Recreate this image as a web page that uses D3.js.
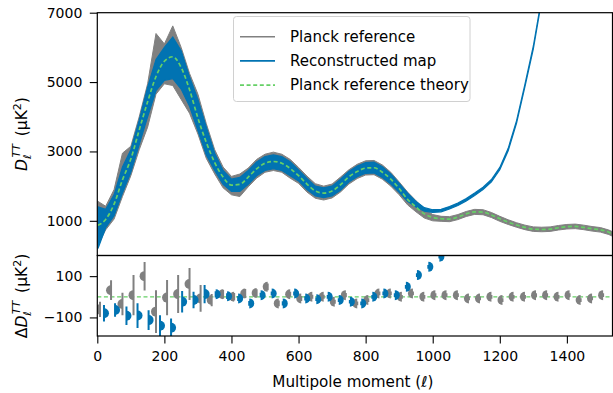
<!DOCTYPE html>
<html>
<head>
<meta charset="utf-8">
<title>TT spectrum</title>
<script src="https://cdn.jsdelivr.net/npm/d3@7"></script>
<style>
  body { margin: 0; background: #fff; }
  text { font-family: "DejaVu Sans", sans-serif; }
</style>
</head>
<body>
<script>
  // multipole knots for the top panel
  var ell = [2, 25, 50, 75, 100, 125, 150, 175, 200, 225, 250, 275, 300, 325, 350, 375, 400, 425, 450, 475,
             500, 525, 550, 575, 600, 625, 650, 675, 700, 725, 750, 775, 800, 825, 850, 875, 900, 925, 950, 975,
             1000, 1025, 1050, 1075, 1100, 1125, 1150, 1175, 1200, 1225, 1250, 1275, 1300, 1325, 1350, 1375,
             1400, 1425, 1450, 1475, 1500, 1525, 1536];
  var theory = [870, 1040, 1480, 2180, 2780, 3620, 4430, 5160, 5600, 5730, 5420, 4780, 3960, 3260, 2680, 2260, 2030, 2050, 2260, 2500,
                2660, 2710, 2660, 2510, 2300, 2060, 1860, 1800, 1860, 2040, 2270, 2420, 2520, 2530, 2400, 2200, 1930, 1620, 1400, 1200,
                1100, 1060, 1050, 1110, 1200, 1260, 1250, 1170, 1060, 960, 880, 810, 760, 750, 760, 800,
                830, 840, 810, 770, 740, 670, 620];
  // spread of the noisy Planck reference spectrum
  var grayHi = [1560, 1420, 1900, 2950, 3150, 4000, 4950, 6400, 6100, 6620, 6000, 5250, 4650, 3800, 3050, 2550, 2280, 2350, 2520, 2770,
                2920, 2980, 2920, 2770, 2540, 2290, 2070, 2000, 2060, 2260, 2470, 2630, 2730, 2740, 2610, 2400, 2120, 1830, 1580, 1350,
                1180, 1130, 1120, 1180, 1270, 1330, 1320, 1240, 1130, 1030, 945, 875, 825, 815, 825, 865,
                895, 905, 875, 835, 805, 735, 685];
  var grayLo = [300, 740, 1050, 1700, 2300, 3050, 3700, 4650, 4950, 4900, 4500, 4100, 3500, 2800, 2350, 1950, 1750, 1700, 1980, 2230,
                2400, 2450, 2400, 2230, 2080, 1830, 1650, 1600, 1660, 1830, 2060, 2220, 2320, 2330, 2200, 2000, 1750, 1460, 1260, 1080,
                1000, 985, 975, 1035, 1125, 1185, 1175, 1095, 985, 895, 815, 745, 695, 685, 695, 735,
                765, 775, 745, 705, 675, 605, 555];
  // spread of the reconstructed map spectrum (leaves the top above l~1320)
  var blueHi = [1400, 1330, 1750, 2550, 3050, 3900, 4850, 5650, 6000, 6300, 5900, 5150, 4500, 3700, 2950, 2450, 2200, 2250, 2450, 2700,
                2850, 2900, 2850, 2700, 2470, 2220, 2000, 1950, 2000, 2200, 2420, 2580, 2680, 2690, 2560, 2350, 2080, 1800, 1560, 1380,
                1320, 1330, 1410, 1510, 1640, 1800, 1970, 2190, 2540, 3090, 3890, 4940, 6040, 7440, null, null,
                null, null, null, null, null, null, null];
  var blueLo = [200, 800, 1150, 1800, 2400, 3200, 4000, 4750, 5050, 5100, 4800, 4300, 3600, 2900, 2450, 2050, 1850, 1850, 2050, 2300,
                2450, 2500, 2450, 2300, 2150, 1900, 1720, 1670, 1720, 1880, 2120, 2270, 2370, 2380, 2250, 2060, 1820, 1560, 1400, 1280,
                1240, 1260, 1340, 1440, 1570, 1730, 1900, 2120, 2470, 3020, 3820, 4870, 5960, 7360, null, null,
                null, null, null, null, null, null, null];

  // binned residuals for the lower panel
  var resEll = [8, 41, 75, 108, 141, 175, 208, 241, 275, 308, 341, 375, 408, 441, 475, 508, 541, 575, 608, 641,
                675, 708, 741, 775, 808, 841, 875, 908, 941, 975, 1008, 1041, 1075, 1108, 1141, 1175, 1208, 1241,
                1275, 1308, 1341, 1375, 1408, 1441, 1475, 1508];
  var resGray = [-61, 32, -35, 8, 100, -72, -4, 13, 62, -8, -16, 12, 0, 16, 18, 48, -32, 12, -8, 0,
                 0, -24, 8, -32, -16, 16, 16, 0, 16, 0, 8, 8, 8, -8, -8, 0, -16, 0,
                 0, 8, 8, 0, 8, -16, -8, 8];
  var errGray = [37, 48, 54, 97, 69, 104, 85, 92, 78, 65, 30, 22, 18, 22, 18, 16, 14, 12, 12, 10,
                 10, 10, 10, 9, 9, 9, 9, 9, 9, 9, 9, 9, 9, 9, 9, 9, 9, 9,
                 9, 9, 9, 9, 9, 9, 9, 9];
  var resBlue = [-80, -64, -92, -91, -113, -140, -150, -24, -16, 13, 12, 3, -8, -32, 8, 16, -32, 16, -8, -12,
                 0, -16, -24, -32, 0, 16, 8, 48, 105, 145, 194, 270, 365, 430, 645, 980, 1670, 2700,
                 4090, 5740, null, null, null, null, null, null];
  var errBlue = [40, 33, 45, 60, 48, 50, 45, 52, 40, 44, 15, 14, 12, 12, 12, 10, 10, 10, 10, 9,
                 9, 9, 9, 9, 9, 9, 9, 9, 9, 9, 9, 9, 9, 9, 9, 9, 9, 9,
                 9, 9, 9, 9, 9, 9, 9, 9];

  var topTicks = [1000, 3000, 5000, 7000];
  var resTicks = [-100, 100];
  var xTicks = [0, 200, 400, 600, 800, 1000, 1200, 1400];
  var legendLabels = ["Planck reference", "Reconstructed map", "Planck reference theory"];

  var grayCol = "#808080", blueCol = "#0173b2", greenCol = "#66d066";
  var width = 613, height = 393;

  var svg = d3.select("body").append("svg")
              .attr("width", width)
              .attr("height", height);

  var x = d3.scaleLinear().domain([0, 1536]).range([97.3, 612.5]);
  var yTop = d3.scaleLinear().domain([0, 7000]).range([255.5, 12.7]);
  var yRes = d3.scaleLinear().domain([-190, 200]).range([336, 255.5]);

  var defs = svg.append("defs");
  defs.append("clipPath").attr("id", "clipTop").append("rect")
      .attr("x", x.range()[0]).attr("y", yTop.range()[1])
      .attr("width", x.range()[1] - x.range()[0]).attr("height", yTop.range()[0] - yTop.range()[1]);
  defs.append("clipPath").attr("id", "clipRes").append("rect")
      .attr("x", x.range()[0]).attr("y", yRes.range()[1])
      .attr("width", x.range()[1] - x.range()[0]).attr("height", yRes.range()[0] - yRes.range()[1]);

  var rows = ell.map(function(l, i) {
    return {l: l, t: theory[i], gh: grayHi[i], gl: grayLo[i], bh: blueHi[i], bl: blueLo[i]};
  });

  // ---- top panel
  var gTop = svg.append("g").attr("clip-path", "url(#clipTop)");

  var grayArea = d3.area()
                   .x(function(d){ return x(d.l); })
                   .y0(function(d){ return yTop(d.gl); })
                   .y1(function(d){ return yTop(d.gh); });
  gTop.append("path").datum(rows)
      .attr("d", grayArea)
      .attr("fill", grayCol).attr("stroke", grayCol).attr("stroke-width", 1);

  var blueArea = d3.area()
                   .defined(function(d){ return d.bh != null; })
                   .x(function(d){ return x(d.l); })
                   .y0(function(d){ return yTop(d.bl); })
                   .y1(function(d){ return yTop(d.bh); });
  gTop.append("path").datum(rows)
      .attr("d", blueArea)
      .attr("fill", blueCol).attr("stroke", blueCol).attr("stroke-width", 1.2);

  var theoryLine = d3.line()
                     .curve(d3.curveMonotoneX)
                     .x(function(d){ return x(d.l); })
                     .y(function(d){ return yTop(d.t); });
  gTop.append("path").datum(rows)
      .attr("d", theoryLine)
      .attr("fill", "none").attr("stroke", greenCol)
      .attr("stroke-width", 1.7).attr("stroke-dasharray", "4,2.6");

  // ---- residual panel
  var gRes = svg.append("g").attr("clip-path", "url(#clipRes)");
  gRes.append("line")
      .attr("x1", x.range()[0]).attr("x2", x.range()[1])
      .attr("y1", yRes(0)).attr("y2", yRes(0))
      .attr("stroke", greenCol).attr("stroke-width", 1.3).attr("stroke-dasharray", "4,2.6");

  var half = d3.arc().innerRadius(0).outerRadius(5);
  var resRows = resEll.map(function(l, i) {
    return {l: l, g: resGray[i], ge: errGray[i], b: resBlue[i], be: errBlue[i]};
  });

  var grayPts = gRes.selectAll(".gp").data(resRows).enter().append("g").attr("class", "gp");
  grayPts.append("line")
         .attr("x1", function(d){ return x(d.l); }).attr("x2", function(d){ return x(d.l); })
         .attr("y1", function(d){ return yRes(d.g - d.ge); }).attr("y2", function(d){ return yRes(d.g + d.ge); })
         .attr("stroke", grayCol).attr("stroke-width", 2);
  grayPts.append("path")
         .attr("d", half({startAngle: Math.PI, endAngle: 2 * Math.PI}))
         .attr("transform", function(d){ return "translate(" + x(d.l) + "," + yRes(d.g) + ")"; })
         .attr("fill", grayCol);

  var bluePts = gRes.selectAll(".bp").data(resRows.filter(function(d){ return d.b != null; }))
                    .enter().append("g").attr("class", "bp");
  bluePts.append("line")
         .attr("x1", function(d){ return x(d.l) + 4; }).attr("x2", function(d){ return x(d.l) + 4; })
         .attr("y1", function(d){ return yRes(d.b - d.be); }).attr("y2", function(d){ return yRes(d.b + d.be); })
         .attr("stroke", blueCol).attr("stroke-width", 2);
  bluePts.append("path")
         .attr("d", half({startAngle: 0, endAngle: Math.PI}))
         .attr("transform", function(d){ return "translate(" + (x(d.l) + 4) + "," + yRes(d.b) + ")"; })
         .attr("fill", blueCol);

  // ---- axes
  var fmt = d3.format("d");
  var axTop = svg.append("g").attr("transform", "translate(" + x.range()[0] + ",0)")
                 .call(d3.axisLeft(yTop).tickValues(topTicks).tickFormat(fmt).tickSize(7.5).tickPadding(7.5));
  var axRes = svg.append("g").attr("transform", "translate(" + x.range()[0] + ",0)")
                 .call(d3.axisLeft(yRes).tickValues(resTicks).tickFormat(fmt).tickSize(7.5).tickPadding(7.5));
  var axX = svg.append("g").attr("transform", "translate(0," + yRes.range()[0] + ")")
               .call(d3.axisBottom(x).tickValues(xTicks).tickFormat(fmt).tickSize(7.5).tickPadding(7.5));
  [axTop, axRes, axX].forEach(function(a){
    a.select(".domain").remove();
    a.selectAll("text").attr("font-size", 14).attr("fill", "#000").style("font-family", "DejaVu Sans");
    a.selectAll("line").attr("stroke", "#000").attr("stroke-width", 1.1);
  });

  // frames
  svg.append("rect")
     .attr("x", x.range()[0]).attr("y", yTop.range()[1])
     .attr("width", x.range()[1] - x.range()[0]).attr("height", yTop.range()[0] - yTop.range()[1])
     .attr("fill", "none").attr("stroke", "#000").attr("stroke-width", 1.2);
  svg.append("rect")
     .attr("x", x.range()[0]).attr("y", yRes.range()[1])
     .attr("width", x.range()[1] - x.range()[0]).attr("height", yRes.range()[0] - yRes.range()[1])
     .attr("fill", "none").attr("stroke", "#000").attr("stroke-width", 1.2);

  // axis labels
  svg.append("text")
     .attr("x", (x.range()[0] + x.range()[1]) / 2 - 2).attr("y", 387)
     .attr("text-anchor", "middle").attr("font-size", 15.2)
     .text("Multipole moment (ℓ)");

  function yLabel(cx, cy, delta) {
    var t = svg.append("text")
               .attr("transform", "translate(" + cx + "," + cy + ") rotate(-90)")
               .attr("text-anchor", "middle").attr("font-size", 15.5).attr("dy", "0.35em");
    if (delta) t.append("tspan").text("Δ");
    t.append("tspan").attr("font-style", "italic").text("D");
    t.append("tspan").attr("font-size", 11).attr("dy", 4).text("ℓ");
    t.append("tspan").attr("font-size", 11).attr("font-style", "italic").attr("dx", -3).attr("dy", -11).text("TT");
    t.append("tspan").attr("dy", 7).text("\u2002(μK");
    t.append("tspan").attr("font-size", 11).attr("dy", -6).text("2");
    t.append("tspan").attr("dy", 6).text(")");
  }
  yLabel(22, 134, false);
  yLabel(22, 296, true);

  // ---- legend
  var leg = svg.append("g");
  leg.append("rect")
     .attr("x", 233.5).attr("y", 16.5).attr("width", 236.5).attr("height", 85).attr("rx", 3)
     .attr("fill", "#fff").attr("fill-opacity", 0.85)
     .attr("stroke", "#d0d0d0").attr("stroke-width", 1);
  var legStyles = [
    {c: grayCol, dash: null, w: 1.6},
    {c: blueCol, dash: null, w: 1.8},
    {c: greenCol, dash: "4,2.6", w: 1.6}
  ];
  legendLabels.forEach(function(lab, i) {
    var yy = 36.7 + i * 24.2;
    leg.append("line")
       .attr("x1", 240).attr("x2", 275).attr("y1", yy).attr("y2", yy)
       .attr("stroke", legStyles[i].c).attr("stroke-width", legStyles[i].w)
       .attr("stroke-dasharray", legStyles[i].dash);
    leg.append("text")
       .attr("x", 290).attr("y", yy + 5.3).attr("font-size", 15)
       .text(lab);
  });
</script>
</body>
</html>
